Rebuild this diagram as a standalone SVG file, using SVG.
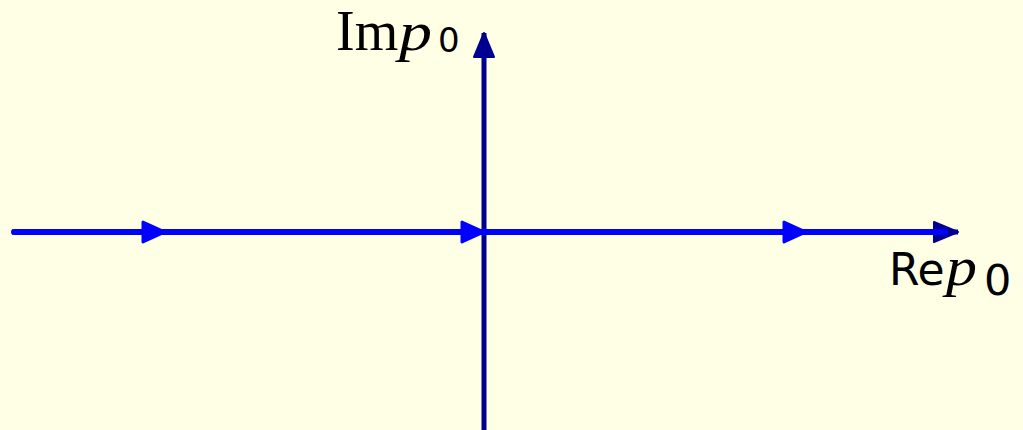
<svg xmlns="http://www.w3.org/2000/svg" width="1023" height="430" viewBox="0 0 1023 430">
<style>
.axis{stroke:#00008F;stroke-width:5;fill:none}
.path{stroke:#0000FF;stroke-width:6;fill:none;stroke-linecap:round}
.rmS{font-family:"Liberation Serif",serif;font-size:56px;fill:#000}
.rm{font-family:"DejaVu Sans",sans-serif;font-size:44px;fill:#000}
.it{font-family:"Liberation Serif",serif;font-style:italic;font-size:54px;fill:#000}
.sb{font-family:"DejaVu Sans",sans-serif;fill:#000}
</style>
<defs>
<marker id="axHead" markerUnits="userSpaceOnUse" markerWidth="30" markerHeight="26" refX="26" refY="12" orient="auto" viewBox="0 0 30 26">
<path d="M2,2 L26,12 L2,22 Z" fill="#00008F" stroke="#00008F" stroke-width="2" stroke-linejoin="round"/>
</marker>
<marker id="flowHead" markerUnits="userSpaceOnUse" markerWidth="30" markerHeight="26" refX="24" refY="12" orient="auto" viewBox="0 0 30 26">
<path d="M2,2 L24,12 L2,22 Z" fill="#0000FF" stroke="#0000FF" stroke-width="3" stroke-linejoin="round"/>
</marker>
</defs>
<rect width="1023" height="430" fill="#FFFFE6"/>
<g id="connectors">
<line id="re-axis" class="axis" x1="12" y1="232" x2="958" y2="232" marker-end="url(#axHead)"/>
<line id="im-axis" class="axis" x1="484" y1="430" x2="484" y2="33" marker-end="url(#axHead)"/>
<path id="contour" class="path" d="M14,232 H945"/>
<line class="path" x1="140" y1="232" x2="165" y2="232" marker-end="url(#flowHead)"/>
<line class="path" x1="460" y1="232" x2="484" y2="232" marker-end="url(#flowHead)"/>
<line class="path" x1="780" y1="232" x2="806" y2="232" marker-end="url(#flowHead)"/>
</g>
<g id="label-im">
<text x="336" y="50" class="rmS">Im</text>
<text x="399" y="50" class="it" textLength="33" lengthAdjust="spacingAndGlyphs">p</text>
<text x="438" y="52" class="sb" style="font-size:34px">0</text>
</g>
<g id="label-re">
<text x="889" y="285" class="rm">Re</text>
<text x="946" y="285" class="it" textLength="31" lengthAdjust="spacingAndGlyphs">p</text>
<text x="984" y="295" class="sb" style="font-size:43px">0</text>
</g>
</svg>
